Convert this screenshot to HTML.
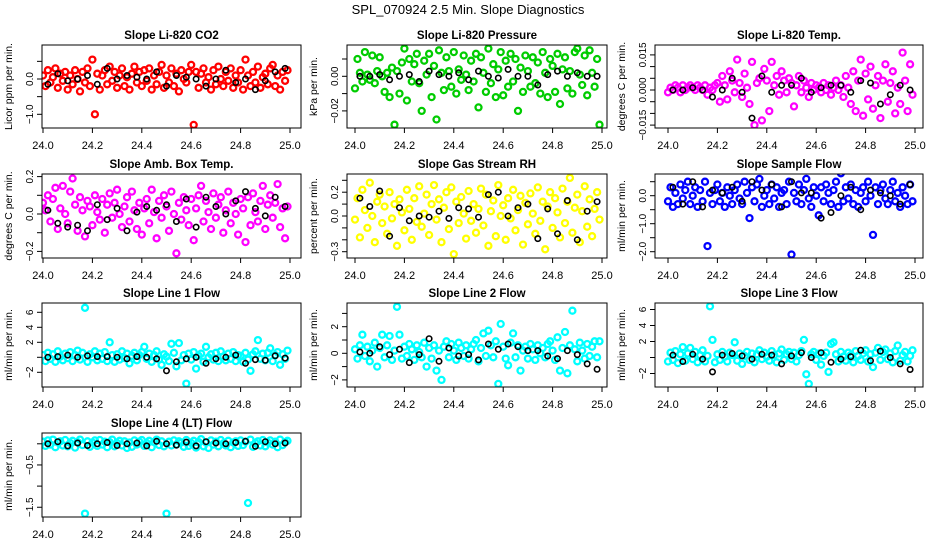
<!DOCTYPE html>
<html><head><meta charset="utf-8">
<style>
html,body{margin:0;padding:0;background:#fff;}
svg{display:block;font-family:"Liberation Sans",Arial,sans-serif;}
</style></head>
<body>
<svg id="chart" width="936" height="540" viewBox="0 0 936 540" xmlns="http://www.w3.org/2000/svg">
<text x="468" y="14" text-anchor="middle" font-size="13">SPL_070924  2.5 Min. Slope Diagnostics</text>
</svg>
<script>
const titles = ["Slope Li-820 CO2","Slope Li-820 Pressure","Slope Li-820 Temp.","Slope Amb. Box Temp.","Slope Gas Stream RH","Slope Sample Flow","Slope Line 1 Flow","Slope Line 2 Flow","Slope Line 3 Flow","Slope Line 4 (LT) Flow"];
const yTitles = ["Licor ppm per min.","kPa per min.","degrees C per min.","degrees C per min.","percent per min.","ml/min per min.","ml/min per min.","ml/min per min.","ml/min per min.","ml/min per min."];
const colors = ["#ff0000","#00cc00","#ff00ff","#ff00ff","#ffff00","#0000ff","#00ffff","#00ffff","#00ffff","#00ffff"];
const xTicks = [24.0,24.2,24.4,24.6,24.8,25.0];
const xTickLabels = ["24.0","24.2","24.4","24.6","24.8","25.0"];
const yTicks = [[-1.0,-0.5,0.0,0.5],[-0.02,-0.01,0.0,0.01],[-0.015,-0.01,-0.005,0,0.005,0.01,0.015],[-0.2,-0.1,0,0.1,0.2],[-0.3,-0.2,-0.1,0,0.1,0.2,0.3],[-2,-1.5,-1,-0.5,0,0.5],[-2,0,2,4,6],[-2,-1,0,1,2,3],[-2,0,2,4,6],[-1.5,-1,-0.5,0]];
const yTickLabels = [[[-1.0,"\u22121.0"],[0,"0.0"]],[[-0.02,"\u22120.02"],[0,"0.00"]],[[-0.015,"\u22120.015"],[0,"0.000"],[0.015,"0.015"]],[[-0.2,"\u22120.2"],[0,"0.0"],[0.2,"0.2"]],[[-0.3,"\u22120.3"],[0,"0.0"],[0.2,"0.2"]],[[-2,"\u22122.0"],[-1,"\u22121.0"],[0,"0.0"]],[[-2,"\u22122"],[2,"2"],[4,"4"],[6,"6"]],[[-2,"\u22122"],[0,"0"],[2,"2"]],[[-2,"\u22122"],[2,"2"],[4,"4"],[6,"6"]],[[-1.5,"\u22121.5"],[-0.5,"\u22120.5"]]];
const t100 = [24.00,24.01,24.02,24.03,24.04,24.05,24.06,24.07,24.08,24.09,24.10,24.11,24.12,24.13,24.14,24.15,24.16,24.17,24.18,24.19,24.20,24.21,24.22,24.23,24.24,24.25,24.26,24.27,24.28,24.29,24.30,24.31,24.32,24.33,24.34,24.35,24.36,24.37,24.38,24.39,24.40,24.41,24.42,24.43,24.44,24.45,24.46,24.47,24.48,24.49,24.50,24.51,24.52,24.53,24.54,24.55,24.56,24.57,24.58,24.59,24.60,24.61,24.62,24.63,24.64,24.65,24.66,24.67,24.68,24.69,24.70,24.71,24.72,24.73,24.74,24.75,24.76,24.77,24.78,24.79,24.80,24.81,24.82,24.83,24.84,24.85,24.86,24.87,24.88,24.89,24.90,24.91,24.92,24.93,24.94,24.95,24.96,24.97,24.98,24.99];
const t25 = [24.02,24.06,24.10,24.14,24.18,24.22,24.26,24.30,24.34,24.38,24.42,24.46,24.50,24.54,24.58,24.62,24.66,24.70,24.74,24.78,24.82,24.86,24.90,24.94,24.98];
const co2 = [0.1,-0.2,0.25,-0.1,0.05,0.3,-0.25,0.15,-0.05,0.2,-0.3,0.1,-0.15,0.25,0.0,-0.35,0.2,-0.1,0.3,-0.2,0.55,-1.0,0.15,-0.3,0.1,0.25,-0.15,0.35,-0.05,0.2,-0.25,0.1,0.3,-0.2,0.05,-0.3,0.15,0.35,-0.1,0.2,-0.2,0.25,-0.05,0.3,-0.3,0.1,-0.15,0.2,0.4,-0.25,0.1,-0.1,0.3,-0.2,0.15,-0.35,0.25,0.0,-0.1,0.2,0.4,-1.3,0.2,-0.25,0.15,0.3,-0.1,0.05,-0.3,0.25,-0.15,0.35,0.0,-0.2,0.2,-0.05,0.3,-0.25,0.1,-0.1,0.25,-0.3,0.55,0.1,-0.2,0.2,-0.1,0.35,-0.25,0.05,0.15,-0.15,0.3,0.4,-0.2,0.1,-0.3,0.2,-0.05,0.25];
const pressure = [-.007,.010,.002,-.003,.014,.001,-.002,.012,-.004,.003,.011,.000,-.009,.002,-.012,.005,-.028,.003,-.010,.008,.016,-.014,.010,-.003,.007,.013,-.004,-.020,.009,.001,.013,-.012,.006,-.025,.015,.002,-.008,.011,.003,-.006,.014,-.010,.004,-.002,.012,.001,-.008,.009,-.003,.013,-.018,.011,.002,-.009,.016,-.004,.007,-.012,.004,.014,-.011,.009,-.006,.013,-.003,.010,-.020,.005,-.009,.012,.003,-.006,.011,-.004,.008,-.010,.014,.002,-.012,.010,.006,-.009,.013,-.016,.004,.011,-.007,.003,-.010,.014,.016,.001,-.005,.012,-.011,.015,.002,-.006,.010,-.028];
const licorTemp = [-.001,.001,.000,.002,.001,-.001,.002,.000,.001,.002,.001,.000,.002,.001,.000,.002,-.002,.001,.000,.002,.003,-.005,.006,.002,-.004,.008,.004,-.001,.013,.003,-.003,.007,.001,-.006,.012,-.015,.003,.005,-.013,.009,.004,-.009,.012,.002,.006,-.002,.008,.004,-.001,.005,.003,-.007,.002,.006,-.001,.004,.001,-.003,.003,.000,.002,.001,-.001,.003,.000,.002,-.002,.001,.004,.000,.002,-.003,.006,.001,-.006,.008,-.009,.004,.013,-.011,.007,-.004,.010,-.008,.002,.006,-.012,.004,.011,-.005,.003,.008,-.010,.001,-.006,.016,.004,-.009,.011,-.002];
const ambTemp = [.06,.02,.10,-.04,.08,.14,-.08,.03,.15,.00,-.05,.12,.19,.05,-.09,.09,.02,-.12,.07,.04,-.06,.10,.01,-.03,.08,-.10,.05,.11,-.02,.06,.13,.00,-.07,.04,.09,-.04,.12,.02,-.08,.06,-.11,.03,.08,-.05,.13,.01,-.13,.07,-.02,.10,.04,-.09,.12,.00,-.21,.06,-.03,.09,.02,-.06,.08,-.14,.03,.10,.15,-.04,.07,.01,-.08,.11,-.02,.05,.09,-.10,.02,.12,-.05,.06,.00,-.11,.08,.03,-.15,.09,-.06,.11,.01,-.04,.07,.15,-.08,.05,.10,-.02,.06,.16,-.07,.03,-.13,.04];
const rh = [-.03,.15,-.18,.22,.05,-.10,.28,.00,-.22,.12,.18,-.06,.08,-.15,.20,-.02,.10,-.25,.14,.03,-.12,.22,.06,-.20,.15,-.05,.25,-.09,.02,.18,-.16,.10,.26,-.03,.14,-.22,.07,.20,-.11,.24,-.32,.12,-.06,.16,.02,-.19,.21,-.04,.10,-.14,.06,.23,-.08,.18,-.25,.04,.13,-.17,.26,.00,.09,-.20,.15,-.02,.22,-.12,.05,.17,-.24,.11,-.07,.19,.02,-.15,.24,-.04,.12,-.28,.08,.20,-.10,.15,.03,-.18,.23,-.06,.12,.32,-.14,.07,.18,-.22,.04,.25,-.09,.14,-.17,.06,.20,-.03];
const sampleFlow = [-.2,.3,-.4,.1,-.3,.4,-.1,.2,.5,-.3,.0,.3,-.4,.2,-.2,.5,-1.8,.1,-.3,.2,.4,-.2,.1,-.4,.3,.0,-.3,.2,.4,-.1,-.3,.5,.1,-.8,.3,-.2,.4,.6,-.4,.0,.2,-.3,.4,-.1,.3,-.4,.1,.2,-.3,.5,-2.1,.1,-.2,.4,-.3,.2,.6,-.1,-.4,.3,.0,-.7,.3,-.2,.4,.1,-.3,.2,.5,-.4,.8,-.2,.3,-.1,.4,-.3,.2,-.4,.1,.3,-.2,.5,.0,-1.4,.3,-.3,.2,.4,-.1,-.3,.2,.5,-.2,.1,-.4,.3,.0,-.3,.4,-.2];
const line1 = [.3,-.5,.6,-.2,.4,-.6,.8,.1,-.4,.5,-.1,.7,-.5,.3,.9,-.3,.6,6.6,-.6,.4,.0,.8,-.4,.5,-.2,.7,-.5,2.0,.3,-.6,.4,-.3,.8,-.1,.5,-.8,.2,.6,-.4,.3,.7,1.4,-.2,.5,-.6,.3,.8,-.3,-1.0,.4,.1,-.5,1.8,.6,-1.2,1.9,-.4,.3,-3.5,.5,-.3,.7,-1.5,.2,.5,-.6,1.4,.0,.4,-.3,.6,-.5,.8,.1,-.4,.5,-.2,.7,-.5,.3,.2,-.6,.6,-.3,-1.8,.4,.8,2.3,-.2,.5,-.4,.6,1.2,-.5,.3,.7,-1.0,.4,-.2,.9];
const line2 = [.3,-.4,.6,1.4,-.2,.5,-.6,.2,.8,-1.0,.4,1.4,-.3,.6,1.3,-.5,.2,3.5,1.4,-.4,.5,-.2,.7,.3,-.5,.6,.1,-.3,.8,-1.0,.4,-.4,.6,-1.3,.2,-2.0,.5,.9,-.3,.7,.2,-.5,.8,.4,-.2,.6,-.4,.3,.7,1.0,-.6,.4,1.5,-.2,1.7,.6,-.3,.9,-2.3,2.2,.5,-.4,-.9,.8,1.5,-.3,.6,-1.3,.2,.5,-.4,.7,.3,-.5,.6,.0,.4,-.3,.7,.9,.2,-.5,1.2,-1.3,.4,1.6,-1.5,.6,3.2,.3,-.6,.8,.2,-.4,.7,-.2,.5,.9,-.3,.9];
const line3 = [-.5,.6,-.3,.8,-.7,.4,1.3,-.4,.5,1.2,-.2,.7,-.6,.3,.9,-.5,.2,6.4,2.2,-.6,.4,-.3,.7,.1,-.5,.6,.3,1.9,-.4,.5,-.8,.2,.7,-.3,.5,-.6,.4,.9,-.2,.6,.1,-.4,.8,.3,-.6,.5,1.0,-.3,.4,.7,-.2,.6,-.5,.3,.8,2.2,-2.1,-3.3,.4,.7,-.3,.5,-.9,.2,.6,-1.8,1.7,1.9,.4,-.5,.7,.1,-.4,.6,.3,-.6,.8,.2,-.3,.5,.9,-.5,.4,-1.2,.6,1.2,-.3,.7,1.0,-.2,.5,-.6,.8,1.5,-.4,.3,.7,-.5,.2,.9];
const line4 = [.05,-.05,.08,-.02,.10,-.08,.03,.06,-.04,.09,-.06,.02,.07,-.09,.04,.10,-.03,-1.65,.06,-.07,.03,.08,-.05,.09,-.02,.05,-.08,.04,.10,-.06,.02,.07,-.04,.06,-.10,.03,-.07,.08,-.02,.05,.09,-.05,.02,.07,-.08,.04,.10,-.03,.06,-.06,-1.65,.05,-.04,.08,-.02,.06,.03,-.07,.09,-.05,.02,.07,-.09,.04,.11,-.06,.03,-.10,.08,-.02,.05,-.06,.09,.01,-.04,.07,-.08,.03,.06,-.05,.08,-.03,.05,-1.40,.10,-.07,.02,.06,-.04,.09,-.06,.03,.08,-.02,.05,-.08,.10,-.03,.04,.07];
const blackCo2 = [-0.15,0.15,-0.05,0.0,0.1,-0.15,0.3,0.0,0.1,0.05,0.0,0.2,-0.2,0.1,0.05,0.0,-0.2,0.0,0.25,-0.1,0.0,-0.3,-0.05,0.2,0.3];
const blackPressure = [.000,.000,.001,-.002,.000,.001,-.003,.003,.001,.000,.002,-.002,.003,.000,-.001,.004,.000,.000,-.005,.001,.003,.000,.002,.000,.000];
const blackLicorTemp = [.000,.000,.001,.000,-.003,.000,.005,-.001,-.012,.006,-.001,.002,.002,.005,-.001,.001,.002,.002,-.001,.004,.003,-.006,-.002,.002,.000];
const blackAmbTemp = [.02,-.05,-.07,-.06,-.09,.05,-.03,.03,-.09,.01,.04,.02,.05,-.04,.08,-.07,.09,.04,.00,.07,.12,.03,-.01,.09,.04];
const blackRh = [.15,.08,.21,-.17,.07,-.04,.00,-.01,.04,-.02,.07,.06,-.01,.18,.20,.00,.07,.10,-.19,.06,-.15,.13,-.20,.04,.12];
const blackSampleFlow = [.3,-.3,.5,-.4,.2,.1,.3,-.2,.5,.2,.4,-.4,.5,.1,.1,-.8,-.6,.0,.3,-.5,.2,.1,.0,-.3,.4];
const blackLine1 = [.0,.1,.3,.0,.2,.1,.1,.0,-.2,.1,.0,-.2,-1.8,-.6,-.2,.0,-.8,-.2,.0,.3,-.8,-.3,-.4,.2,-.1];
const blackLine2 = [.1,.0,.5,-.1,.3,-.7,-.1,1.1,-.6,.4,-.2,-.1,-.5,.7,.3,.7,.5,.2,.2,-.2,-.4,.2,-.1,-.8,-1.2];
const blackLine3 = [.3,-.5,.4,-.2,-1.8,.3,.5,.2,-.2,.4,.3,-.8,.2,.6,.0,.6,-.6,-.2,.1,.9,-.4,.8,.0,-.8,-1.5];
const blackLine4 = [.00,.05,-.05,.02,-.04,.00,.03,-.04,.00,.02,-.05,.06,.00,-.03,.04,-.05,.05,.02,.00,.03,.06,-.06,.05,.00,.02];

const colorSeries = [co2,pressure,licorTemp,ambTemp,rh,sampleFlow,line1,line2,line3,line4];
const blackSeries = [blackCo2,blackPressure,blackLicorTemp,blackAmbTemp,blackRh,blackSampleFlow,blackLine1,blackLine2,blackLine3,blackLine4];

// layout (pixels)
const cols = [{l:42,r:301,x0:43,x1:290},{l:347,r:607,x0:355,x1:602},{l:655,r:923,x0:668,x1:915}];
const rows = [{t:45,b:128},{t:174,b:258},{t:303,b:387},{t:433,b:517}];
const yScale = [{z:79,k:35.3},{z:76.3,k:1730},{z:90,k:2340},{z:214,k:187},{z:216,k:119},{z:195.7,k:28},{z:357.3,k:7.5},{z:353.3,k:13.3},{z:357.5,k:8},{z:443.8,k:42.3}];

const NS = "http://www.w3.org/2000/svg";
const svg = document.getElementById("chart");
function mk(tag, attrs, parent){const e=document.createElementNS(NS,tag);for(const k in attrs)e.setAttribute(k,attrs[k]);parent.appendChild(e);return e;}

for(let p=0;p<10;p++){
  const c = cols[p%3], r = rows[Math.floor(p/3)], ys = yScale[p];
  const xs = v => c.x0 + (v-24)*(c.x1-c.x0);
  const yy = v => ys.z - v*ys.k;
  const g = mk("g",{},svg);
  
  
  const tt = mk("text",{x:(c.l+c.r)/2,y:r.t-6,"text-anchor":"middle","font-size":"11.5","font-weight":"bold"},g);
  tt.textContent = titles[p];
  
  
  const clip = mk("clipPath",{id:"clip"+p},g);
  mk("rect",{x:c.l,y:r.t,width:c.r-c.l,height:r.b-r.t},clip);
  const pts = mk("g",{"clip-path":"url(#clip"+p+")"},g);
  
  
  const vals = colorSeries[p];
  for(let i=0;i<vals.length;i++){
    const ci = mk("circle",{cx:xs(t100[i]).toFixed(1),cy:yy(vals[i]).toFixed(1),r:3,fill:"none",stroke:colors[p],"stroke-width":2.3},pts);
    
    
  }
  const bv = blackSeries[p];
  for(let i=0;i<bv.length;i++){
    const ci = mk("circle",{cx:xs(t25[i]).toFixed(1),cy:yy(bv[i]).toFixed(1),r:2.7,fill:"none",stroke:"#000","stroke-width":1.6},pts);
    
    
  }
  const box = mk("rect",{x:c.l,y:r.t,width:c.r-c.l,height:r.b-r.t,fill:"none",stroke:"#000","stroke-width":1},g);
  
  
  xTicks.forEach((v,i)=>{
    const x = xs(v);
    mk("line",{x1:x,x2:x,y1:r.b,y2:r.b+5,stroke:"#000"},g);
    const tl = mk("text",{x:x,y:r.b+21,"text-anchor":"middle","font-size":"11"},g);
    tl.textContent = xTickLabels[i];
    
    
  });
  yTicks[p].forEach(v=>{
    const y = yy(v);
    mk("line",{x1:c.l-5,x2:c.l,y1:y,y2:y,stroke:"#000"},g);
  });
  yTickLabels[p].forEach(([v,s])=>{
    const y = yy(v), x = c.l-9;
    const tl = mk("text",{x:x,y:y,"text-anchor":"middle","font-size":"10",transform:"rotate(-90 "+x+" "+y+")"},g);
    tl.textContent = s;
    
    
  });
  const yx = c.l-30, ymid=(r.t+r.b)/2;
  const yt = mk("text",{x:yx,y:ymid,"text-anchor":"middle","font-size":"10.5",transform:"rotate(-90 "+yx+" "+ymid+")"},g);
  yt.textContent = yTitles[p];
  
  
}
</script>
</body></html>
